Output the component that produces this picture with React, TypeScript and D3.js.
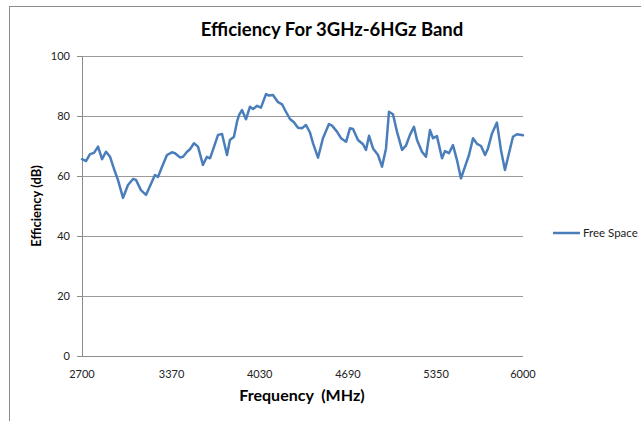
import React from "react";
import * as d3 from "d3";

const frequencies = [
  2700, 2730, 2760, 2790, 2820, 2850, 2880, 2910, 2947, 2969, 3007, 3044, 3082, 3104, 3141, 3179,
  3209, 3246, 3269, 3299, 3336, 3373, 3396, 3433, 3456, 3486, 3508, 3538, 3568, 3605, 3635, 3658,
  3680, 3718, 3748, 3785, 3807, 3837, 3860, 3875, 3897, 3927, 3957, 3980, 4010, 4039, 4077, 4099,
  4129, 4167, 4197, 4219, 4256, 4286, 4316, 4346, 4376, 4406, 4429, 4466, 4503, 4548, 4571, 4608,
  4638, 4676, 4705, 4728, 4765, 4803, 4825, 4848, 4878, 4915, 4945, 4975, 4997, 5027, 5057, 5095,
  5124, 5154, 5184, 5207, 5244, 5274, 5304, 5327, 5356, 5394, 5416, 5446, 5476, 5506, 5536, 5566,
  5596, 5626, 5656, 5686, 5716, 5738, 5768, 5805, 5835, 5865, 5895, 5925, 5955, 6000,
];

const efficiency = [
  65.6, 65.0, 67.3, 67.7, 69.8, 65.6, 68.1, 66.4, 61.4, 58.7, 52.7, 57.0, 59.0, 58.7, 55.3, 53.7,
  56.7, 60.3, 59.7, 63.1, 67.0, 67.9, 67.6, 66.2, 66.4, 68.1, 68.9, 70.9, 69.8, 63.7, 66.4, 65.9,
  68.7, 73.7, 74.0, 67.0, 72.0, 73.1, 78.1, 80.3, 82.0, 78.9, 83.1, 82.3, 83.4, 82.8, 87.3, 86.8,
  87.0, 84.6, 83.9, 82.0, 79.0, 77.9, 76.1, 75.9, 77.0, 74.5, 70.9, 66.1, 72.6, 77.3, 76.8, 74.8,
  72.6, 71.4, 75.9, 75.7, 72.0, 70.6, 68.7, 73.4, 69.2, 67.0, 63.1, 69.2, 81.4, 80.6, 74.8, 68.7,
  70.1, 73.7, 76.4, 72.0, 68.1, 66.4, 75.3, 72.6, 73.3, 65.9, 68.3, 67.6, 70.3, 65.3, 59.2, 63.1,
  67.0, 72.6, 70.7, 70.0, 67.0, 69.2, 74.2, 77.8, 68.7, 62.0, 67.6, 73.1, 73.9, 73.6,
];

const xTicks = [2700, 3370, 4030, 4690, 5350, 6000];
const yTicks = [0, 20, 40, 60, 80, 100];
const seriesName = "Free Space";
const titleText = "Efficiency For 3GHz-6HGz Band";
const xTitle = "Frequency  (MHz)";
const yTitle = "Efficiency (dB)";

export default function App() {
  const W = 641;
  const H = 421;
  const left = 82;
  const right = 523;
  const top = 56;
  const bottom = 356;
  const font = "Lato, 'Open Sans', sans-serif";

  const x = d3.scaleLinear().domain([2700, 6000]).range([left, right]);
  const y = d3.scaleLinear().domain([0, 100]).range([bottom, top]);

  const data = frequencies.map((f, i) => ({ f, v: efficiency[i] }));
  const line = d3
    .line<{ f: number; v: number }>()
    .x((d) => x(d.f))
    .y((d) => y(d.v))
    .curve(d3.curveLinear);

  return (
    <svg
      width={W}
      height={H}
      style={{ position: "absolute", left: 0, top: 0 }}
      xmlns="http://www.w3.org/2000/svg"
    >
      <rect x={0} y={0} width={W} height={H} fill="#fff" />
      <rect x={9.5} y={6.5} width={W + 10} height={H + 10} fill="#fff" stroke="#8c8c8c" strokeWidth={1} />
      <text
        x={332}
        y={36}
        textAnchor="middle"
        fontFamily={font}
        fontWeight="bold"
        fontSize={18.5}
        fill="#000"
      >
        {titleText}
      </text>
      {yTicks.map((t) => (
        <g key={t}>
          <line
            x1={left}
            x2={right}
            y1={Math.round(y(t)) + 0.5}
            y2={Math.round(y(t)) + 0.5}
            stroke={t === 0 ? "#8c8c8c" : "#9a9a9a"}
            strokeWidth={1}
          />
          <line
            x1={left - 5}
            x2={left}
            y1={Math.round(y(t)) + 0.5}
            y2={Math.round(y(t)) + 0.5}
            stroke="#8c8c8c"
          />
          <text
            x={left - 12}
            y={y(t)}
            dy="0.35em"
            textAnchor="end"
            fontFamily={font}
            fontSize={11}
            fill="#222"
          >
            {t}
          </text>
        </g>
      ))}
      <line x1={left + 0.5} x2={left + 0.5} y1={top} y2={bottom} stroke="#8c8c8c" />
      {xTicks.map((t) => (
        <text
          key={t}
          x={x(t)}
          y={bottom + 22}
          textAnchor="middle"
          fontFamily={font}
          fontSize={11}
          fill="#222"
        >
          {t}
        </text>
      ))}
      <path
        d={line(data) || ""}
        fill="none"
        stroke="#4A7EBB"
        strokeWidth={2.5}
        strokeLinejoin="round"
        strokeLinecap="round"
      />
      <text
        x={302}
        y={401}
        textAnchor="middle"
        fontFamily={font}
        fontWeight="bold"
        fontSize={16}
        fill="#000"
        style={{ whiteSpace: "pre" }}
      >
        {xTitle}
      </text>
      <text
        transform={`translate(41, ${206}) rotate(-90)`}
        textAnchor="middle"
        fontFamily={font}
        fontWeight="bold"
        fontSize={13}
        fill="#000"
      >
        {yTitle}
      </text>
      <line x1={553} x2={580} y1={233} y2={233} stroke="#4A7EBB" strokeWidth={2.5} />
      <text x={583} y={233} dy="0.35em" fontFamily={font} fontSize={11.5} fill="#222">
        {seriesName}
      </text>
    </svg>
  );
}
